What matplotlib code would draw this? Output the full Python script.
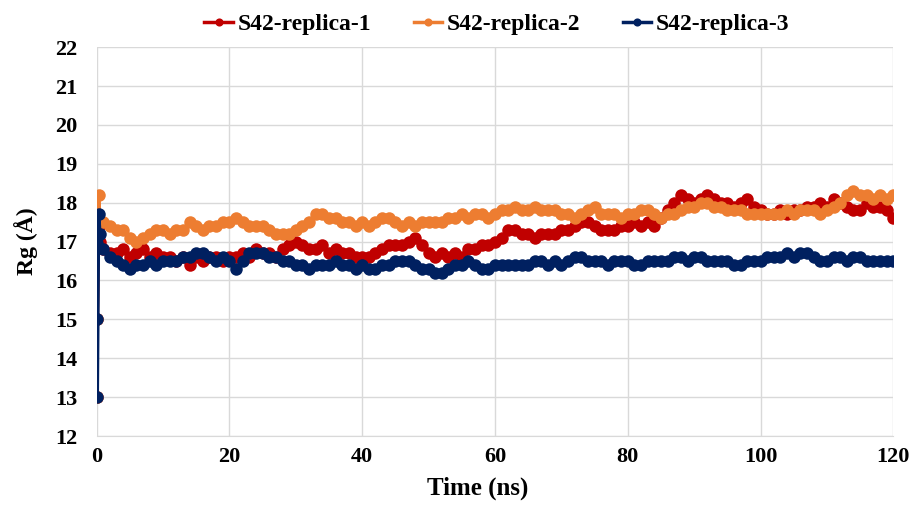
import matplotlib
matplotlib.use("Agg")
import matplotlib.pyplot as plt
import numpy as np

plt.rcParams['font.family'] = ['Liberation Serif', 'DejaVu Serif']

t_start = [0.0, 0.1, 0.3, 0.5]
t_main = list(range(1, 121))
time = t_start + t_main

rep1_start = [13.0, 15.0, 17.4, 17.0]
rep1 = [16.8, 16.7, 16.7, 16.8, 16.6, 16.7, 16.8, 16.6, 16.7, 16.6,
        16.6, 16.5, 16.6, 16.4, 16.6, 16.5, 16.6, 16.6, 16.5, 16.6,
        16.6, 16.7, 16.6, 16.8, 16.7, 16.7, 16.6, 16.8, 16.9, 17.0,
        16.9, 16.8, 16.8, 16.9, 16.7, 16.8, 16.7, 16.7, 16.6, 16.6,
        16.6, 16.7, 16.8, 16.9, 16.9, 16.9, 17.0, 17.1, 16.9, 16.7,
        16.6, 16.7, 16.6, 16.7, 16.6, 16.8, 16.8, 16.9, 16.9, 17.0,
        17.1, 17.3, 17.3, 17.2, 17.2, 17.1, 17.2, 17.2, 17.2, 17.3,
        17.3, 17.4, 17.5, 17.5, 17.4, 17.3, 17.3, 17.3, 17.4, 17.4,
        17.5, 17.4, 17.5, 17.4, 17.6, 17.8, 18.0, 18.2, 18.1, 18.0,
        18.1, 18.2, 18.1, 18.0, 18.0, 17.9, 18.0, 18.1, 17.9, 17.8,
        17.7, 17.7, 17.8, 17.7, 17.8, 17.8, 17.9, 17.9, 18.0, 17.9,
        18.1, 18.0, 17.9, 17.8, 17.8, 18.0, 17.9, 17.9, 17.8, 17.6]

rep2_start = [13.0, 15.0, 18.2, 17.5]
rep2 = [17.5, 17.4, 17.3, 17.3, 17.1, 17.0, 17.1, 17.2, 17.3, 17.3,
        17.2, 17.3, 17.3, 17.5, 17.4, 17.3, 17.4, 17.4, 17.5, 17.5,
        17.6, 17.5, 17.4, 17.4, 17.4, 17.3, 17.2, 17.2, 17.2, 17.3,
        17.4, 17.5, 17.7, 17.7, 17.6, 17.6, 17.5, 17.5, 17.4, 17.5,
        17.4, 17.5, 17.6, 17.6, 17.5, 17.4, 17.5, 17.4, 17.5, 17.5,
        17.5, 17.5, 17.6, 17.6, 17.7, 17.6, 17.7, 17.7, 17.6, 17.7,
        17.8, 17.8, 17.9, 17.8, 17.8, 17.9, 17.8, 17.8, 17.8, 17.7,
        17.7, 17.6, 17.7, 17.8, 17.9, 17.7, 17.7, 17.7, 17.6, 17.7,
        17.7, 17.8, 17.8, 17.7, 17.6, 17.7, 17.7, 17.8, 17.9, 17.9,
        18.0, 18.0, 17.9, 17.9, 17.8, 17.8, 17.8, 17.7, 17.7, 17.7,
        17.7, 17.7, 17.7, 17.8, 17.7, 17.8, 17.8, 17.8, 17.7, 17.8,
        17.9, 18.0, 18.2, 18.3, 18.2, 18.2, 18.1, 18.2, 18.1, 18.2]

rep3_start = [15.0, 13.0, 17.7, 17.2]
rep3 = [16.8, 16.6, 16.5, 16.4, 16.3, 16.4, 16.4, 16.5, 16.4, 16.5,
        16.5, 16.5, 16.6, 16.6, 16.7, 16.7, 16.6, 16.5, 16.6, 16.5,
        16.3, 16.5, 16.7, 16.7, 16.7, 16.6, 16.6, 16.5, 16.5, 16.4,
        16.4, 16.3, 16.4, 16.4, 16.4, 16.5, 16.4, 16.4, 16.3, 16.4,
        16.3, 16.3, 16.4, 16.4, 16.5, 16.5, 16.5, 16.4, 16.3, 16.3,
        16.2, 16.2, 16.3, 16.4, 16.4, 16.5, 16.4, 16.3, 16.3, 16.4,
        16.4, 16.4, 16.4, 16.4, 16.4, 16.5, 16.5, 16.4, 16.5, 16.4,
        16.5, 16.6, 16.6, 16.5, 16.5, 16.5, 16.4, 16.5, 16.5, 16.5,
        16.4, 16.4, 16.5, 16.5, 16.5, 16.5, 16.6, 16.6, 16.5, 16.6,
        16.6, 16.5, 16.5, 16.5, 16.5, 16.4, 16.4, 16.5, 16.5, 16.5,
        16.6, 16.6, 16.6, 16.7, 16.6, 16.7, 16.7, 16.6, 16.5, 16.5,
        16.6, 16.6, 16.5, 16.6, 16.6, 16.5, 16.5, 16.5, 16.5, 16.5]

labels = ["S42-replica-1", "S42-replica-2", "S42-replica-3"]
colors = ["#C00000", "#ED7D31", "#002060"]
yticks = list(range(12, 23))
xticks = [0, 20, 40, 60, 80, 100, 120]

fig = plt.figure(figsize=(9.2, 5.07), dpi=100)
ax = fig.add_axes([0.105, 0.140, 0.866, 0.767])

series = [rep1_start + rep1, rep2_start + rep2, rep3_start + rep3]
for vals, lab, col in zip(series, labels, colors):
    ax.plot(time, vals, color=col, lw=2.5, marker='o', markersize=9,
            markeredgewidth=0, label=lab)

ax.set_xlim(0, 120)
ax.set_ylim(12, 22)
ax.set_xticks(xticks)
ax.set_yticks(yticks)
ax.grid(True, color='#d9d9d9', lw=1)
ax.set_axisbelow(True)
for s in ['top', 'right', 'left']:
    ax.spines[s].set_visible(False)
ax.spines['bottom'].set_color('#d9d9d9')
ax.tick_params(length=0, labelsize=16, pad=8)
ax.tick_params(axis='y', pad=14)
for lbl in ax.get_xticklabels() + ax.get_yticklabels():
    lbl.set_fontweight('bold')
ax.set_xlabel("Time (ns)", fontsize=18, fontweight='bold')
ax.xaxis.set_label_coords(0.478, -0.105)
ax.set_ylabel("Rg (Å)", fontsize=17, fontweight='bold', labelpad=12)

leg = fig.legend(loc='upper center', bbox_to_anchor=(0.54, 1.015), ncol=3,
                 frameon=False, fontsize=17, handlelength=1.2,
                 columnspacing=1.8, handletextpad=0.2, markerscale=0.65)
for txt in leg.get_texts():
    txt.set_fontweight('bold')

fig.savefig("out.png", dpi=100)
